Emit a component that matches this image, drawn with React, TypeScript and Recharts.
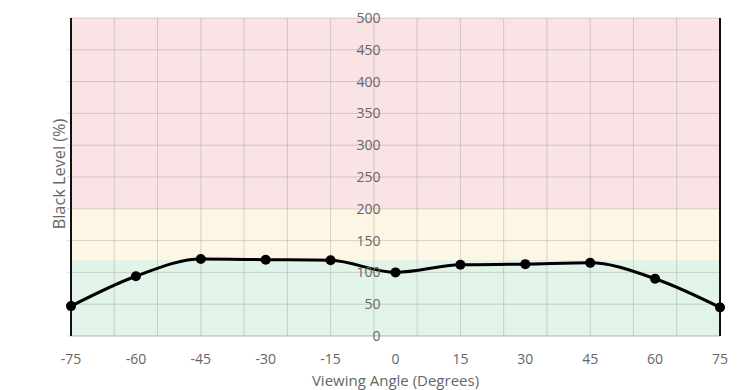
import React from 'react';
import {
  LineChart,
  Line,
  XAxis,
  YAxis,
  ReferenceArea,
  ReferenceLine,
} from 'recharts';

const ANGLES = [-75, -60, -45, -30, -15, 0, 15, 30, 45, 60, 75];
const BLACK_LEVEL = [47, 94, 121, 120, 119, 100, 112, 113, 115, 90, 45];
const X_TICKS = [-75, -60, -45, -30, -15, 0, 15, 30, 45, 60, 75];
const X_GRID = [-75, -65, -55, -45, -35, -25, -15, -5, 5, 15, 25, 35, 45, 55, 65, 75];
const Y_TICKS = [0, 50, 100, 150, 200, 250, 300, 350, 400, 450, 500];
const BAND_LIMITS = [0, 120, 200, 500];
const X_TITLE = 'Viewing Angle (Degrees)';
const Y_TITLE = 'Black Level (%)';

const data = ANGLES.map((a, i) => ({ angle: a, value: BLACK_LEVEL[i] }));

const W = 740;
const H = 382;
const Y_AXIS_W = 63;
const MARGIN = { top: 10, right: 28, bottom: 0, left: 0 };
const X_AXIS_H = 54;
const PLOT_W = W - MARGIN.left - MARGIN.right - Y_AXIS_W;
const LABEL_X = MARGIN.left + Y_AXIS_W + PLOT_W / 2 - 15;

const BAND_COLORS = ['#e2f3ea', '#fdf6e4', '#f9e3e5'];
const TEXT = '#666666';
const FONT = '"Open Sans", sans-serif';
const GRID = 'rgba(120,120,120,0.28)';

const YTick = (props: any) => {
  const { y, payload } = props;
  return (
    <text
      x={LABEL_X}
      y={y}
      dy="0.36em"
      textAnchor="end"
      fill={TEXT}
      fontSize={14}
      fontFamily={FONT}
    >
      {payload.value}
    </text>
  );
};

const XTick = (props: any) => {
  const { x, y, payload } = props;
  return (
    <text
      x={x}
      y={y}
      dy="0.36em"
      textAnchor="middle"
      fill={TEXT}
      fontSize={14}
      fontFamily={FONT}
    >
      {payload.value}
    </text>
  );
};

const XTitle = (props: any) => {
  const vb = props.viewBox || {};
  const cx = (vb.x || 0) + (vb.width || 0) / 2;
  const by = (vb.y || 0) + (vb.height || 0) - 4.5;
  return (
    <text x={cx} y={by} textAnchor="middle" fill={TEXT} fontSize={15} fontFamily={FONT}>
      {X_TITLE}
    </text>
  );
};

const YTitle = (props: any) => {
  const vb = props.viewBox || {};
  const cx = (vb.x || 0) + 51.5;
  const cy = (vb.y || 0) + (vb.height || 0) / 2 - 3;
  return (
    <text
      x={cx}
      y={cy}
      dy="0.36em"
      transform={`rotate(-90, ${cx}, ${cy})`}
      textAnchor="middle"
      fill={TEXT}
      fontSize={16.3}
      fontFamily={FONT}
    >
      {Y_TITLE}
    </text>
  );
};

export default function App() {
  return (
    <div style={{ width: W, height: H }}>
      <LineChart width={W} height={H} data={data} margin={MARGIN}>
        <XAxis
          dataKey="angle"
          type="number"
          domain={[-75, 75]}
          ticks={X_TICKS}
          interval={0}
          height={X_AXIS_H}
          axisLine={{ stroke: GRID }}
          tickLine={false}
          tickSize={0}
          tickMargin={22.5}
          tick={<XTick />}
          label={<XTitle />}
        />
        <XAxis
          xAxisId="top"
          dataKey="angle"
          type="number"
          orientation="top"
          domain={[-75, 75]}
          ticks={X_TICKS}
          interval={0}
          height={0}
          axisLine={false}
          tickLine={{ stroke: GRID }}
          tickSize={4}
          tick={false}
        />
        <YAxis
          type="number"
          domain={[0, 500]}
          ticks={Y_TICKS}
          interval={0}
          width={Y_AXIS_W}
          axisLine={{ stroke: '#111', strokeWidth: 2 }}
          tickLine={{ stroke: GRID }}
          tickSize={4}
          tick={<YTick />}
          label={<YTitle />}
        />
        {BAND_COLORS.map((c, i) => (
          <ReferenceArea
            key={'band' + i}
            y1={BAND_LIMITS[i]}
            y2={BAND_LIMITS[i + 1]}
            fill={c}
            fillOpacity={1}
            stroke="none"
          />
        ))}
        {Y_TICKS.map((v) => (
          <ReferenceLine key={'hy' + v} y={v} stroke={GRID} strokeWidth={1} />
        ))}
        {X_GRID.map((v) => (
          <ReferenceLine
            key={'vx' + v}
            x={v}
            stroke={v === -75 || v === 75 ? '#111' : GRID}
            strokeWidth={v === -75 || v === 75 ? 2 : 1}
          />
        ))}
        <Line
          type="monotone"
          dataKey="value"
          stroke="#000"
          strokeWidth={3}
          dot={{ r: 5, fill: '#000', stroke: '#000', strokeWidth: 0 }}
          isAnimationActive={false}
        />
      </LineChart>
    </div>
  );
}
